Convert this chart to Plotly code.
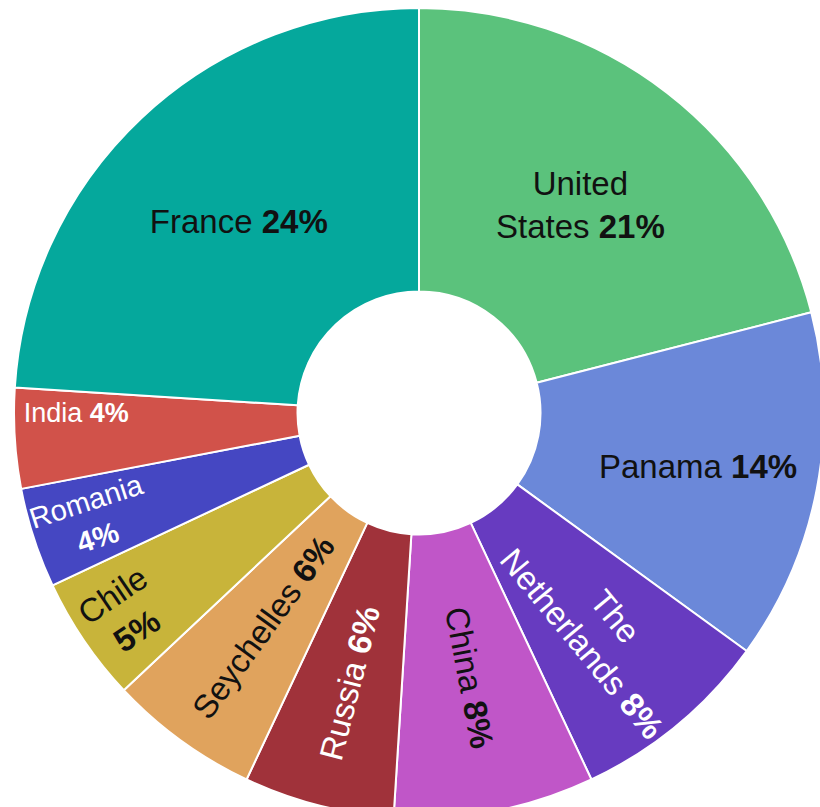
import plotly.graph_objects as go

countries = ["United States", "Panama", "The Netherlands", "China", "Russia",
             "Seychelles", "Chile", "Romania", "India", "France"]
display_labels = ["United<br>States", "Panama", "The<br>Netherlands", "China", "Russia",
                  "Seychelles", "Chile", "Romania", "India", "France"]
separators = [" ", " ", " ", " ", " ", " ", "<br>", "<br>", " ", " "]
shares = [21, 14, 8, 8, 6, 6, 5, 4, 4, 24]
colors = ["#5BC27C", "#6B88D9", "#673BC0", "#C056C8", "#A0323A",
          "#E0A35D", "#C8B43A", "#4547C2", "#D1524A", "#05A89C"]
text_colors = ["#111111", "#111111", "#FFFFFF", "#111111", "#FFFFFF",
               "#111111", "#111111", "#FFFFFF", "#FFFFFF", "#111111"]
text_sizes = [33, 33, 33, 33, 33, 33, 33, 33, 27, 33]
# large slices keep horizontal labels, small ones follow the radius
horizontal_label = [True, True, False, False, False, False, False, False, False, True]

texts = [f"{lab}{sep}<b>{v}%</b>" for lab, sep, v in zip(display_labels, separators, shares)]
texts_h = [t if h else "" for t, h in zip(texts, horizontal_label)]
texts_r = ["" if h else t for t, h in zip(texts, horizontal_label)]

font_family = "Liberation Sans, Arial, sans-serif"
common = dict(
    labels=countries,
    values=shares,
    textinfo="text",
    textposition="inside",
    hole=0.30,
    sort=False,
    direction="clockwise",
    rotation=0,
    hoverinfo="skip",
    showlegend=False,
)

fig = go.Figure()
fig.add_trace(go.Pie(
    text=texts_h,
    insidetextorientation="horizontal",
    insidetextfont=dict(family=font_family, size=text_sizes, color=text_colors),
    marker=dict(colors=colors, line=dict(color="white", width=2)),
    **common,
))
fig.add_trace(go.Pie(
    text=texts_r,
    insidetextorientation="radial",
    insidetextfont=dict(family=font_family, size=text_sizes, color=text_colors),
    marker=dict(colors=["rgba(0,0,0,0)"] * len(shares), line=dict(width=0)),
    **common,
))

fig.update_layout(
    width=824, height=818,
    margin=dict(l=14, r=0, t=8, b=0),
    paper_bgcolor="white",
    plot_bgcolor="white",
)

fig.write_html("out.html",
               post_script="document.documentElement.style.overflow='hidden';document.body.style.overflow='hidden';document.body.style.margin='0';")
